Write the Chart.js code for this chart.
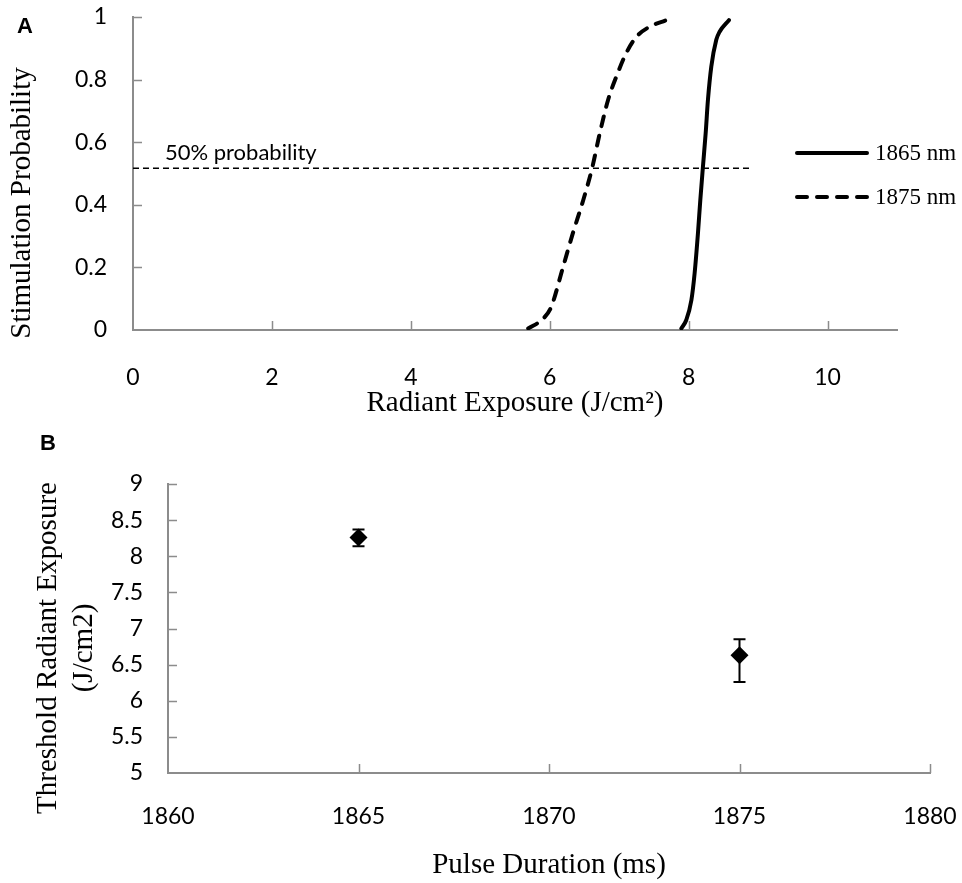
<!DOCTYPE html>
<html>
<head>
<meta charset="utf-8">
<script src="https://cdn.jsdelivr.net/npm/chart.js@4.4.1/dist/chart.umd.min.js"></script>
<style>
  body { margin: 0; background: #fff; }
  #wrapA { position: absolute; left: 0; top: 0; width: 962px; height: 430px; }
  #wrapB { position: absolute; left: 0; top: 430px; width: 962px; height: 453px; }
</style>
</head>
<body>
<div id="wrapA"><canvas id="chartA" width="962" height="430"></canvas></div>
<div id="wrapB"><canvas id="chartB" width="962" height="453"></canvas></div>
<script>
// panel A: stimulation probability vs radiant exposure
var exposure1865 = [7.895, 7.966, 8.04, 8.086, 8.134, 8.168, 8.206, 8.245, 8.278, 8.326, 8.398, 8.446, 8.58];
var prob1865 = [0.005, 0.032, 0.096, 0.181, 0.309, 0.415, 0.522, 0.628, 0.735, 0.841, 0.927, 0.953, 0.99];
var exposure1875 = [5.69, 5.9, 6.02, 6.19, 6.33, 6.48, 6.61, 6.72, 6.84, 6.96, 7.1, 7.25, 7.44, 7.68];
var prob1875 = [0.005, 0.035, 0.073, 0.2, 0.307, 0.413, 0.517, 0.628, 0.735, 0.81, 0.884, 0.937, 0.969, 0.99];
var halfLineX = [0, 8.92];
var halfLineY = [0.517, 0.517];
var seriesNames = ['1865 nm', '1875 nm'];

// panel B: threshold radiant exposure per wavelength
var wavelengths = [1865, 1875];
var thresholds = [8.26, 6.63];
var thresholdLow = [8.14, 6.26];
var thresholdHigh = [8.37, 6.85];

var axisGray = '#8c8c8c';
Chart.defaults.font.family = 'Lato';
Chart.defaults.color = '#000';

function pts(xs, ys) {
    return xs.map(function (v, i) { return { x: v, y: ys[i] }; });
}

function plainNum(v) {
    return String(Math.round(v * 10) / 10);
}

// no extra room for overflowing edge labels
function noPad(s) {
    s.paddingTop = 0; s.paddingBottom = 0;
    s.paddingLeft = 0; s.paddingRight = 0;
}

// Excel style ticks pointing into the plot area
var innerTicks = {
    id: 'innerTicks',
    afterDraw: function (chart) {
        var ctx = chart.ctx, a = chart.chartArea;
        var xs = chart.scales.x, ys = chart.scales.y;
        ctx.save();
        ctx.strokeStyle = axisGray;
        ctx.lineWidth = 1.5;
        ctx.beginPath();
        xs.ticks.forEach(function (t) {
            if (t.value === xs.min) return;
            var px = Math.round(xs.getPixelForValue(t.value)) + 0.5;
            ctx.moveTo(px, a.bottom);
            ctx.lineTo(px, a.bottom - 9);
        });
        ys.ticks.forEach(function (t) {
            if (t.value === ys.min) return;
            var py = Math.round(ys.getPixelForValue(t.value)) + 0.5;
            ctx.moveTo(a.left, py);
            ctx.lineTo(a.left + 9, py);
        });
        ctx.stroke();
        ctx.restore();
    }
};

// free texts: panel letter, rotated y titles, annotation
var texts = {
    id: 'texts',
    afterDraw: function (chart, args, opts) {
        var ctx = chart.ctx;
        (opts.items || []).forEach(function (it) {
            ctx.save();
            ctx.font = it.font;
            ctx.fillStyle = '#000';
            ctx.textAlign = it.align || 'left';
            ctx.textBaseline = it.baseline || 'alphabetic';
            var x = it.x, y = it.y;
            if (it.dataX !== undefined) {
                x = chart.scales.x.getPixelForValue(it.dataX);
                y = chart.scales.y.getPixelForValue(it.dataY) + it.dy;
            }
            ctx.translate(x, y);
            if (it.rotate) ctx.rotate(-Math.PI / 2);
            var lines = [].concat(it.text);
            lines.forEach(function (l, i) { ctx.fillText(l, 0, i * (it.lineGap || 0)); });
            ctx.restore();
        });
    }
};

var sideLegend = {
    id: 'sideLegend',
    afterDraw: function (chart, args, opts) {
        var ctx = chart.ctx;
        opts.datasets.forEach(function (di, i) {
            var ds = chart.data.datasets[di];
            var y = opts.y + i * opts.gap;
            ctx.save();
            ctx.strokeStyle = ds.borderColor;
            ctx.lineWidth = ds.borderWidth;
            ctx.lineCap = 'round';
            ctx.setLineDash(ds.borderDash || []);
            ctx.beginPath();
            ctx.moveTo(opts.x, y);
            ctx.lineTo(opts.x + opts.len, y);
            ctx.stroke();
            ctx.setLineDash([]);
            ctx.font = opts.font;
            ctx.fillStyle = '#000';
            ctx.textBaseline = 'middle';
            ctx.fillText(ds.label, opts.x + opts.len + 8, y + 1);
            ctx.restore();
        });
    }
};

var errorBars = {
    id: 'errorBars',
    beforeDatasetsDraw: function (chart) {
        var ctx = chart.ctx, xs = chart.scales.x, ys = chart.scales.y;
        ctx.save();
        ctx.strokeStyle = '#000';
        ctx.lineWidth = 2;
        wavelengths.forEach(function (w, i) {
            var px = xs.getPixelForValue(w);
            var lo = ys.getPixelForValue(thresholdLow[i]);
            var hi = ys.getPixelForValue(thresholdHigh[i]);
            ctx.beginPath();
            ctx.moveTo(px, lo); ctx.lineTo(px, hi);
            ctx.moveTo(px - 6, lo); ctx.lineTo(px + 6, lo);
            ctx.moveTo(px - 6, hi); ctx.lineTo(px + 6, hi);
            ctx.stroke();
        });
        ctx.restore();
    }
};

new Chart(document.getElementById('chartA'), {
    type: 'line',
    data: {
        datasets: [{
            label: seriesNames[0],
            data: pts(exposure1865, prob1865),
            borderColor: '#000',
            borderWidth: 4,
            borderCapStyle: 'round',
            pointRadius: 0,
            cubicInterpolationMode: 'monotone'
        }, {
            label: seriesNames[1],
            data: pts(exposure1875, prob1875),
            borderColor: '#000',
            borderWidth: 4,
            borderDash: [10, 10],
            borderCapStyle: 'round',
            pointRadius: 0,
            cubicInterpolationMode: 'monotone'
        }, {
            label: '50% probability',
            data: pts(halfLineX, halfLineY),
            borderColor: '#000',
            borderWidth: 1.5,
            borderDash: [6, 4],
            pointRadius: 0
        }]
    },
    options: {
        responsive: false,
        animation: false,
        events: [],
        layout: { padding: { top: 17, right: 65, left: 0, bottom: 0 } },
        scales: {
            x: {
                type: 'linear',
                min: 0,
                max: 11,
                afterFit: function (s) { noPad(s); s.height = 100; },
                ticks: { stepSize: 2, includeBounds: false, padding: 34, font: { size: 23 } },
                grid: { display: false, drawTicks: false },
                border: { color: axisGray, width: 2 },
                title: {
                    display: true,
                    text: 'Radiant Exposure (J/cm\u00b2)',
                    font: { family: 'Liberation Serif', size: 29 },
                    padding: { top: 0, bottom: 9 }
                }
            },
            y: {
                min: 0,
                max: 1,
                afterFit: function (s) { noPad(s); s.width = 133; },
                ticks: { stepSize: 0.2, padding: 26, font: { size: 23 }, callback: plainNum },
                grid: { display: false, drawTicks: false },
                border: { color: axisGray, width: 2 }
            }
        },
        plugins: {
            legend: { display: false },
            tooltip: { enabled: false },
            sideLegend: { datasets: [0, 1], x: 797, y: 153, gap: 44, len: 70, font: '23px "Liberation Serif"' },
            texts: {
                items: [
                    { text: 'A', x: 17, y: 33, font: 'bold 22px "Liberation Sans"' },
                    { text: 'Stimulation Probability', x: 22, y: 203, rotate: true, align: 'center', baseline: 'middle', font: '29px "Liberation Serif"' },
                    { text: '50% probability', dataX: 0.46, dataY: 0.517, dy: -8, font: '22px Lato' }
                ]
            }
        }
    },
    plugins: [innerTicks, texts, sideLegend]
});

new Chart(document.getElementById('chartB'), {
    type: 'scatter',
    data: {
        datasets: [{
            label: 'Threshold',
            data: pts(wavelengths, thresholds),
            pointStyle: 'rectRot',
            pointRadius: 9,
            backgroundColor: '#000',
            borderColor: '#000',
            borderWidth: 0
        }]
    },
    options: {
        responsive: false,
        animation: false,
        events: [],
        layout: { padding: { top: 54, right: 32, left: 0, bottom: 0 } },
        scales: {
            x: {
                type: 'linear',
                min: 1860,
                max: 1880,
                afterFit: function (s) { noPad(s); s.height = 110; },
                ticks: { stepSize: 5, padding: 30, font: { size: 23 }, callback: function (v) { return String(v); } },
                grid: { display: false, drawTicks: false },
                border: { color: axisGray, width: 2 },
                title: {
                    display: true,
                    text: 'Pulse Duration (ms)',
                    font: { family: 'Liberation Serif', size: 29 },
                    padding: { top: 0, bottom: 0 }
                }
            },
            y: {
                min: 5,
                max: 9,
                afterFit: function (s) { noPad(s); s.width = 168; },
                ticks: { stepSize: 0.5, padding: 25, font: { size: 23 }, callback: plainNum },
                grid: { display: false, drawTicks: false },
                border: { color: axisGray, width: 2 }
            }
        },
        plugins: {
            legend: { display: false },
            tooltip: { enabled: false },
            texts: {
                items: [
                    { text: 'B', x: 40, y: 20, font: 'bold 22px "Liberation Sans"' },
                    { text: ['Threshold Radiant Exposure', '(J/cm2)'], x: 48, y: 218, rotate: true, align: 'center', baseline: 'middle', lineGap: 36, font: '29px "Liberation Serif"' }
                ]
            }
        }
    },
    plugins: [innerTicks, errorBars, texts]
});
</script>
</body>
</html>
